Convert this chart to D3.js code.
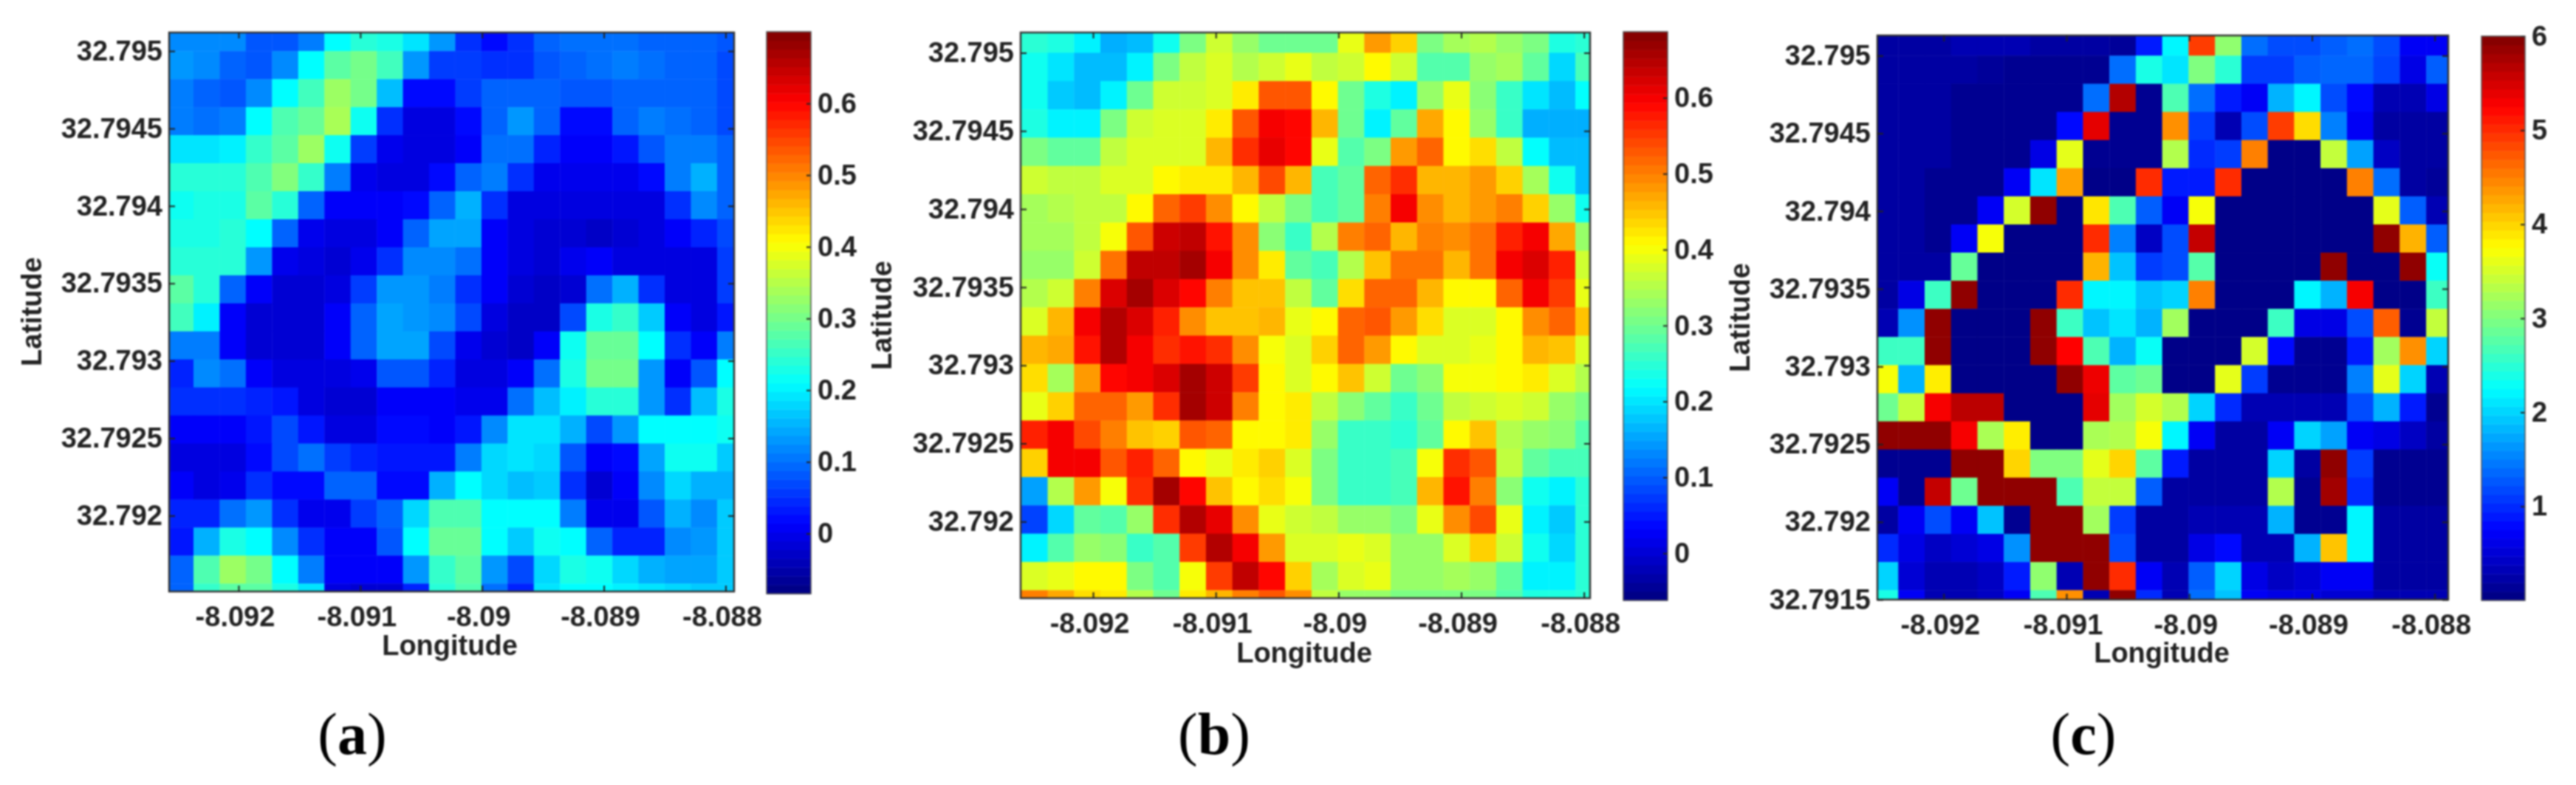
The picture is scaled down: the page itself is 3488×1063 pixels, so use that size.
<!DOCTYPE html>
<html>
<head>
<meta charset="utf-8">
<script src="https://cdn.jsdelivr.net/npm/d3@7/dist/d3.min.js"></script>
<style>
  html, body { margin: 0; padding: 0; background: #fff; }
  svg { display: block; filter: blur(1.2px); }
  text { font-family: "Liberation Sans", Arial, sans-serif; font-weight: bold; fill: #222; }
</style>
</head>
<body>
<svg id="chart"></svg>
<script>
// values, top row first, west to east
var valuesA = [
  [.12,.12,.12,.08,.08,.11,.21,.24,.23,.19,.13,.05,.02,.05,.09,.10,.10,.10,.09,.09,.09,.08],
  [.13,.12,.09,.08,.12,.21,.28,.30,.26,.13,.06,.06,.05,.05,.08,.09,.10,.11,.10,.09,.09,.07],
  [.11,.09,.08,.12,.21,.26,.33,.30,.16,.02,.02,.06,.09,.09,.09,.08,.08,.09,.09,.09,.09,.07],
  [.11,.10,.11,.21,.27,.29,.34,.22,.05,-.01,-.01,.02,.09,.13,.09,.02,.02,.09,.11,.10,.09,.07],
  [.19,.19,.20,.25,.28,.33,.22,.06,0,-.01,-.01,.01,.10,.10,.04,.01,.01,.03,.08,.11,.11,.09],
  [.24,.24,.24,.27,.31,.25,.11,0,-.01,-.01,.02,.09,.11,.05,0,0,0,0,.02,.11,.15,.09],
  [.22,.23,.23,.28,.24,.09,.01,.01,.01,.02,.09,.15,.05,-.01,-.01,-.01,-.01,-.01,-.01,.05,.12,.09],
  [.23,.23,.24,.21,.09,0,-.01,-.01,.01,.09,.14,.14,.01,-.01,-.02,-.02,-.03,-.02,-.01,.01,.04,.07],
  [.24,.24,.24,.13,0,-.01,-.02,0,.05,.12,.12,.10,.01,-.01,-.02,0,.01,-.01,-.01,-.01,-.01,.06],
  [.28,.24,.09,.01,-.02,-.02,-.01,.06,.13,.13,.11,.05,.01,-.02,-.03,-.02,.10,.15,.05,-.01,-.01,.06],
  [.26,.20,.01,-.02,-.02,-.02,.01,.09,.14,.13,.12,.07,-.01,-.03,-.03,.07,.23,.25,.17,.01,-.01,.03],
  [.11,.11,.01,-.02,-.02,-.02,.01,.09,.14,.14,.07,0,-.02,-.03,.01,.22,.29,.29,.21,.05,.01,.11],
  [.04,.12,.10,.01,-.01,-.01,-.01,0,.08,.08,.04,-.01,-.01,.01,.10,.23,.30,.30,.13,.01,.08,.21],
  [.05,.05,.05,.04,.03,-.01,-.02,-.02,.01,.01,.01,0,0,.10,.16,.20,.24,.24,.13,.05,.16,.23],
  [.01,.01,.01,.03,.07,.03,-.01,-.01,.02,.02,.01,.03,.12,.19,.19,.15,.07,.13,.21,.21,.21,.22],
  [-.01,-.01,-.01,.02,.07,.10,.06,.04,.03,.03,.03,.11,.18,.19,.18,.08,.01,.02,.14,.22,.22,.17],
  [.01,-.01,0,.05,.02,.02,.09,.09,.02,.02,.15,.21,.18,.16,.17,.05,-.02,.01,.12,.18,.15,.15],
  [.04,.04,.10,.13,.05,0,0,.06,.09,.18,.27,.27,.21,.21,.21,.11,0,0,.08,.15,.12,.17],
  [.03,.15,.23,.21,.12,.05,.01,.01,.08,.21,.29,.29,.21,.17,.22,.21,.09,.04,.04,.12,.13,.17],
  [.09,.27,.33,.30,.21,.11,.01,.01,.01,.13,.25,.28,.13,.07,.18,.23,.22,.18,.15,.14,.14,.17],
  [.09,.25,.28,.28,.23,.19,-.01,-.02,-.02,.04,.24,.27,.10,.04,.19,.21,.21,.20,.19,.18,.17,.17]
];
var valuesB = [
  [.25,.24,.21,.16,.17,.23,.31,.37,.33,.30,.30,.30,.39,.48,.44,.31,.34,.35,.33,.31,.24,.25],
  [.23,.20,.17,.17,.21,.31,.36,.38,.35,.37,.39,.36,.37,.41,.37,.28,.28,.33,.34,.29,.19,.27],
  [.23,.18,.17,.21,.30,.37,.37,.38,.42,.53,.53,.41,.30,.24,.21,.33,.39,.32,.26,.20,.17,.22],
  [.24,.21,.21,.31,.37,.38,.38,.42,.53,.60,.59,.46,.30,.21,.29,.47,.41,.33,.26,.16,.16,.16],
  [.31,.29,.29,.36,.38,.38,.38,.46,.56,.61,.59,.39,.28,.31,.48,.52,.41,.43,.36,.22,.17,.17],
  [.37,.36,.36,.38,.38,.41,.42,.42,.46,.54,.46,.27,.29,.52,.56,.46,.46,.48,.44,.34,.23,.17],
  [.34,.35,.36,.36,.41,.52,.55,.49,.41,.36,.31,.27,.29,.50,.60,.49,.46,.48,.50,.44,.33,.23],
  [.34,.34,.36,.40,.53,.63,.64,.58,.49,.32,.26,.35,.50,.52,.46,.50,.49,.51,.57,.60,.47,.33],
  [.33,.33,.37,.51,.64,.64,.66,.60,.49,.42,.29,.27,.35,.45,.51,.51,.46,.51,.60,.62,.57,.37],
  [.35,.37,.50,.62,.66,.62,.59,.50,.45,.45,.36,.29,.43,.52,.52,.46,.41,.41,.52,.60,.55,.39],
  [.38,.46,.60,.65,.62,.57,.49,.45,.45,.46,.39,.41,.52,.53,.48,.43,.38,.38,.41,.49,.52,.45],
  [.46,.47,.58,.65,.60,.56,.58,.56,.49,.40,.38,.44,.52,.48,.41,.38,.38,.39,.41,.46,.45,.38],
  [.43,.34,.48,.59,.60,.62,.66,.63,.55,.41,.38,.41,.45,.37,.30,.32,.40,.40,.41,.42,.38,.35],
  [.39,.44,.52,.52,.48,.56,.66,.63,.50,.41,.42,.36,.32,.29,.26,.30,.36,.37,.38,.37,.33,.31],
  [.57,.60,.54,.50,.45,.44,.53,.52,.41,.41,.42,.33,.26,.26,.25,.29,.41,.45,.35,.33,.32,.28],
  [.44,.60,.60,.53,.57,.52,.41,.39,.42,.44,.38,.31,.26,.26,.27,.40,.56,.53,.36,.29,.27,.27],
  [.15,.35,.48,.40,.56,.66,.59,.45,.41,.43,.40,.31,.26,.26,.27,.46,.58,.50,.32,.23,.21,.25],
  [.08,.19,.29,.28,.33,.56,.65,.61,.49,.39,.37,.36,.33,.33,.31,.39,.49,.54,.39,.21,.18,.25],
  [.21,.28,.33,.32,.26,.28,.55,.65,.60,.48,.38,.38,.39,.38,.33,.33,.38,.44,.37,.23,.19,.25],
  [.38,.39,.41,.41,.31,.28,.40,.55,.64,.59,.44,.34,.38,.39,.33,.33,.34,.33,.29,.21,.21,.25],
  [.50,.47,.43,.42,.35,.30,.42,.46,.50,.53,.49,.36,.33,.33,.31,.31,.31,.31,.28,.24,.24,.25]
];
var valuesC = [
  [.2,.2,.2,.3,.3,.3,.2,.2,.2,.15,.9,2.2,4.9,3.1,1.4,1.2,1.2,1.3,1.4,1.2,.7,.7],
  [.2,.2,.2,.2,.15,.1,.1,.1,.1,1.4,2.4,2.1,3.0,2.5,1.1,1.1,1.3,1.35,1.35,1.15,.6,1.3],
  [.2,.2,.2,.1,.1,.1,.1,.1,1.4,5.7,.1,2.7,1.4,.9,.7,1.8,2.2,1.2,.8,.3,.3,.6],
  [.2,.2,.2,.1,.1,.1,.1,.8,5.4,.1,.1,4.4,1.1,.3,1.2,4.9,3.95,1.5,.7,.2,.2,.2],
  [.2,.2,.2,.1,.1,.1,.6,3.6,.1,.1,.1,3.3,1.0,1.1,4.5,.05,.05,3.4,1.7,.4,.2,.2],
  [.2,.2,.1,.1,.1,.7,2.1,4.3,.05,.05,5.0,.9,.9,5.0,.05,.05,.05,.05,4.5,1.4,.2,.15],
  [.2,.2,.1,.1,.7,3.5,5.9,.05,3.9,2.7,1.3,.7,3.7,.05,.05,.05,.05,.05,.05,3.6,1.3,.3],
  [.2,.2,.1,.7,3.7,.05,.05,.05,5.0,1.5,.4,1.2,5.6,.05,.05,.05,.05,.05,.05,5.9,4.2,1.3],
  [.2,.2,.2,2.85,.05,.05,.05,.05,4.2,1.9,1.1,1.2,2.75,.05,.05,.05,.05,5.9,.05,.05,5.9,2.3],
  [.2,.6,2.6,5.9,.05,.05,.05,5.0,2.2,2.2,1.9,2.0,4.5,.05,.05,.05,2.2,1.8,5.3,.05,.05,2.6],
  [.3,1.6,5.9,.05,.05,.05,5.9,2.6,1.9,2.1,1.8,3.2,.05,.05,.05,2.6,.6,.6,1.2,4.7,.1,3.4],
  [2.6,2.6,5.9,.05,.05,.05,5.9,5.25,2.7,1.8,2.3,.05,.05,.05,3.5,.8,.1,.1,.9,3.2,4.4,2.0],
  [3.7,1.8,3.85,.05,.05,.05,.05,5.9,5.35,2.8,2.9,.05,.05,3.6,1.1,.1,.1,.1,1.5,3.6,2.0,.3],
  [2.9,3.4,5.3,5.65,5.65,.05,.05,.05,5.4,3.2,3.5,3.3,2.0,1.0,.3,.3,.3,.3,1.2,1.8,.9,.1],
  [5.9,5.9,5.9,5.3,3.25,3.85,.05,.05,3.25,3.3,3.7,2.2,.7,.2,.2,.7,2.0,1.7,.7,.6,.4,.2],
  [.1,.1,.1,5.9,5.9,4.0,3.0,3.0,3.6,4.0,2.8,.9,.2,.2,.2,2.0,.2,5.9,1.1,.1,.1,.1],
  [.7,.1,5.6,2.9,5.9,5.9,5.9,2.7,3.4,3.4,1.3,.2,.2,.2,.2,3.3,.1,5.8,1.0,.1,.1,.1],
  [.2,.7,1.2,.7,1.9,.1,5.9,5.9,3.2,1.1,.2,.2,.3,.3,.3,1.8,.1,.1,2.2,.2,.2,.2],
  [1.0,.6,.4,.5,.6,1.6,5.9,5.9,5.9,1.2,.2,.2,.6,.8,.3,.3,1.8,4.1,2.2,.2,.2,.2],
  [2.0,.5,.3,.3,.4,.9,3.1,.3,5.9,5.0,.7,.3,1.3,2.0,.6,.4,.5,.7,.7,.2,.2,.2],
  [2.4,.7,.3,.3,.4,.7,2.7,4.4,.3,5.9,1.0,.3,1.4,1.9,.7,.6,.6,.5,.5,.3,.3,.3]
];

var lonTicks = [-8.092, -8.091, -8.09, -8.089, -8.088];
var latTicks = [32.795, 32.7945, 32.794, 32.7935, 32.793, 32.7925, 32.792];
var latTicksC = [32.795, 32.7945, 32.794, 32.7935, 32.793, 32.7925, 32.792, 32.7915];
var barTicks = [0, 0.1, 0.2, 0.3, 0.4, 0.5, 0.6];
var barTicksC = [1, 2, 3, 4, 5, 6];
var captions = ['a', 'b', 'c'];

// cell grid, same for all three maps (edge of 2nd col / 2nd row and spacing)
var lonEdge = -8.09237, lonStep = 0.000215;
var latEdge = 32.795, latStep = 0.000181;

var width = 3488, height = 1063;
var svg = d3.select('#chart').attr('width', width).attr('height', height);

function jet(t) {
    var c = v => Math.round(255 * Math.max(0, Math.min(1, v)));
    return 'rgb(' + c(1.5 - Math.abs(4 * t - 3)) + ',' + c(1.5 - Math.abs(4 * t - 2)) + ',' + c(1.5 - Math.abs(4 * t - 1)) + ')';
}

var panels = [
    {id: 'a', values: valuesA, left: 229, right: 994, top: 44, bottom: 801,
     lon: [-8.09257, -8.08793], lat: [32.79151, 32.79512], lats: latTicks,
     latX: 46, latY: 422, lonX: 609, lonY: 877, capX: 477,
     barLeft: 1038, barRight: 1098, barTop: 43, barBottom: 804,
     range: [-0.084, 0.7], ticks: barTicks},
    {id: 'b', values: valuesB, left: 1382, right: 2153, top: 44, bottom: 810,
     lon: [-8.09259, -8.08795], lat: [32.79151, 32.79513], lats: latTicks,
     latX: 1197, latY: 427, lonX: 1766, lonY: 887, capX: 1644,
     barLeft: 2198, barRight: 2258, barTop: 43, barBottom: 813,
     range: [-0.062, 0.687], ticks: barTicks},
    {id: 'c', values: valuesC, left: 2542, right: 3315, top: 48, bottom: 812,
     lon: [-8.09254, -8.08789], lat: [32.7915, 32.79513], lats: latTicksC,
     latX: 2359, latY: 430, lonX: 2927, lonY: 887, capX: 2821,
     barLeft: 3360, barRight: 3419, barTop: 49, barBottom: 813,
     range: [0, 6], ticks: barTicksC}
];

panels.forEach(function(p) {
    var x = d3.scaleLinear().domain(p.lon).range([p.left, p.right]);
    var y = d3.scaleLinear().domain(p.lat).range([p.bottom, p.top]);
    var color = d3.scaleSequential(jet).domain(p.range);

    svg.append('clipPath').attr('id', 'clip-' + p.id)
        .append('rect')
        .attr('x', p.left).attr('y', p.top)
        .attr('width', p.right - p.left).attr('height', p.bottom - p.top);

    var cells = [];
    p.values.forEach(function(row, r) {
        row.forEach(function(v, c) { cells.push({r: r, c: c, v: v}); });
    });

    // +0.5 so neighbouring cells dont show a seam
    svg.append('g')
        .attr('clip-path', 'url(#clip-' + p.id + ')')
        .selectAll('rect')
        .data(cells)
        .enter()
        .append('rect')
            .attr('x', d => x(lonEdge + (d.c - 1) * lonStep))
            .attr('y', d => y(latEdge - (d.r - 1) * latStep))
            .attr('width', d => x(lonEdge + d.c * lonStep) - x(lonEdge + (d.c - 1) * lonStep) + 0.5)
            .attr('height', d => y(latEdge - d.r * latStep) - y(latEdge - (d.r - 1) * latStep) + 0.5)
            .attr('fill', d => color(d.v));

    svg.append('rect')
        .attr('x', p.left).attr('y', p.top)
        .attr('width', p.right - p.left).attr('height', p.bottom - p.top)
        .attr('fill', 'none').attr('stroke', '#333').attr('stroke-width', 2.5);

    var xAxis = d3.axisBottom(x).tickValues(lonTicks).tickFormat(String).tickSizeInner(-8).tickSizeOuter(0).tickPadding(20);
    var xg = svg.append('g').attr('transform', 'translate(0,' + p.bottom + ')').call(xAxis);
    xg.selectAll('text').attr('dx', -5);
    svg.append('g').attr('transform', 'translate(0,' + p.top + ')')
        .call(d3.axisTop(x).tickValues(lonTicks).tickFormat('').tickSizeInner(-8).tickSizeOuter(0));

    var yAxis = d3.axisLeft(y).tickValues(p.lats).tickFormat(String).tickSizeInner(-8).tickSizeOuter(0).tickPadding(9);
    svg.append('g').attr('transform', 'translate(' + p.left + ',0)').call(yAxis);
    svg.append('g').attr('transform', 'translate(' + p.right + ',0)')
        .call(d3.axisRight(y).tickValues(p.lats).tickFormat('').tickSizeInner(-8).tickSizeOuter(0));

    // colorbar, 64 levels like the matlab colormap
    var by = d3.scaleLinear().domain(p.range).range([p.barBottom, p.barTop]);
    var levels = d3.range(64).map(i => p.range[0] + (i / 64) * (p.range[1] - p.range[0]));
    var lvlStep = (p.range[1] - p.range[0]) / 64;
    svg.append('g').selectAll('rect')
        .data(levels)
        .enter()
        .append('rect')
            .attr('x', p.barLeft)
            .attr('y', d => by(d + lvlStep))
            .attr('width', p.barRight - p.barLeft)
            .attr('height', d => by(d) - by(d + lvlStep) + 0.5)
            .attr('fill', d => color(d + lvlStep / 2));

    svg.append('g').attr('transform', 'translate(' + p.barRight + ',0)')
        .call(d3.axisRight(by).tickValues(p.ticks).tickFormat(String).tickSizeInner(-6).tickSizeOuter(0).tickPadding(9));

    svg.append('rect')
        .attr('x', p.barLeft).attr('y', p.barTop)
        .attr('width', p.barRight - p.barLeft).attr('height', p.barBottom - p.barTop)
        .attr('fill', 'none').attr('stroke', '#555').attr('stroke-width', 1.5);

    svg.append('text').text('Longitude')
        .attr('x', p.lonX).attr('y', p.lonY)
        .attr('text-anchor', 'middle').attr('dominant-baseline', 'middle')
        .attr('class', 'axis-title');

    svg.append('text').text('Latitude')
        .attr('transform', 'translate(' + p.latX + ',' + p.latY + ') rotate(-90)')
        .attr('text-anchor', 'middle').attr('dominant-baseline', 'middle')
        .attr('class', 'axis-title');

    var cap = svg.append('text')
        .attr('x', p.capX).attr('y', 1003)
        .attr('text-anchor', 'middle').attr('dominant-baseline', 'middle')
        .style('font-family', '"Liberation Serif", serif')
        .style('font-size', '80px')
        .style('font-weight', 'normal')
        .style('fill', '#000');
    cap.append('tspan').text('(');
    cap.append('tspan').text(captions[panels.indexOf(p)]).style('font-weight', 'bold');
    cap.append('tspan').text(')');
});

svg.selectAll('.tick text').style('font-size', '38px').style('font-family', '"Liberation Sans", Arial, sans-serif');
svg.selectAll('.axis-title').style('font-size', '38px');
svg.selectAll('.domain').attr('stroke', 'none');
svg.selectAll('.tick line').attr('stroke', '#222').attr('stroke-width', 2);
</script>
</body>
</html>
